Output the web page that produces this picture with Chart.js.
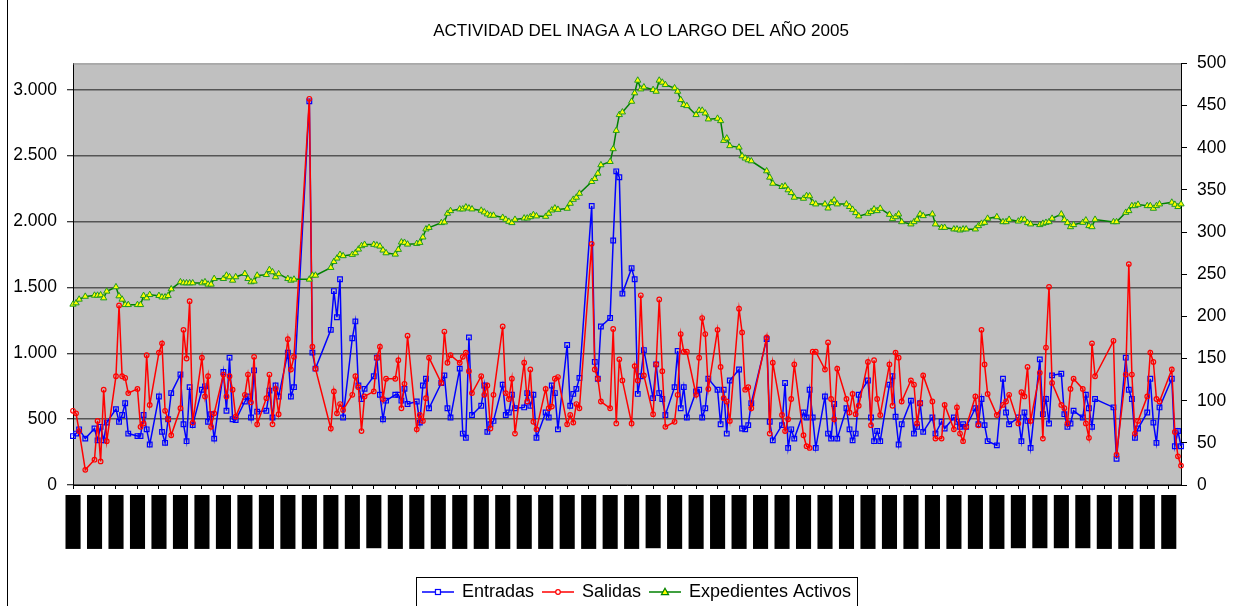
<!DOCTYPE html>
<html><head><meta charset="utf-8">
<script src="https://cdn.jsdelivr.net/npm/chart.js@4.4.0/dist/chart.umd.min.js"></script>
<style>html,body{margin:0;padding:0;background:#fff;}canvas{display:block;}</style>
</head><body>
<canvas id="c" width="1248" height="606"></canvas>
<script>
const chartTitle = 'ACTIVIDAD DEL INAGA A LO LARGO DEL AÑO 2005';
const seriesNames = ['Entradas', 'Salidas', 'Expedientes Activos'];
const tickDays = [0,7,14,21,28,35,42,49,56,63,70,77,84,91,98,105,112,119,126,133,140,147,154,161,168,175,182,189,196,203,210,217,224,231,238,245,252,259,266,273,280,287,294,301,308,315,322,329,336,343,350,357];
const tickLabels = ['03/01/2005','10/01/2005','17/01/2005','24/01/2005','31/01/2005','07/02/2005','14/02/2005','21/02/2005','28/02/2005','07/03/2005','14/03/2005','21/03/2005','28/03/2005','04/04/2005','11/04/2005','18/04/2005','25/04/2005','02/05/2005','09/05/2005','16/05/2005','23/05/2005','30/05/2005','06/06/2005','13/06/2005','20/06/2005','27/06/2005','04/07/2005','11/07/2005','18/07/2005','25/07/2005','01/08/2005','08/08/2005','15/08/2005','22/08/2005','29/08/2005','05/09/2005','12/09/2005','19/09/2005','26/09/2005','03/10/2005','10/10/2005','17/10/2005','24/10/2005','31/10/2005','07/11/2005','14/11/2005','21/11/2005','28/11/2005','05/12/2005','12/12/2005','19/12/2005','26/12/2005'];
const leftTicks = [0,500,1000,1500,2000,2500,3000];
const rightTicks = [0,50,100,150,200,250,300,350,400,450,500];

// day offset from 03/01/2005 (one line per week)
const days = [
0,1,2,4,
7,8,9,10,11,
14,15,16,17,18,
21,22,23,24,25,
28,29,30,31,32,
35,36,37,38,39,
42,43,44,45,46,
49,50,51,52,53,
56,57,58,59,60,
63,64,65,66,67,
70,71,72,
77,78,79,
84,85,86,87,88,
91,92,93,94,95,
98,99,100,101,102,
105,106,107,108,109,
112,113,114,115,116,
120,121,122,123,
126,127,128,129,130,
133,134,135,136,137,
140,141,142,143,144,
147,148,149,150,151,
154,155,156,157,158,
161,162,163,164,165,
169,170,171,172,
175,176,177,178,179,
182,183,184,185,186,
189,190,191,192,193,
196,197,198,199,200,
203,204,205,206,207,
210,211,212,213,214,
217,218,219,220,221,
226,227,228,
231,232,233,234,235,
238,239,240,241,242,
245,246,247,248,249,
252,253,254,255,256,
259,260,261,262,263,
266,267,268,269,270,
273,274,275,276,277,
280,281,283,284,
287,288,289,290,291,
294,295,296,297,298,
301,303,304,305,
308,309,310,311,312,
315,316,317,318,319,
322,323,324,325,326,
329,330,331,332,333,
339,340,
343,344,345,346,347,
350,351,352,353,354,
358,359,360,361
];
const entradas = [
58,61,66,55,
67,53,69,53,74,
90,75,83,97,61,
58,58,83,66,48,
105,63,50,78,109,
131,72,52,116,71,
113,117,75,84,55,
134,88,151,78,77,
99,105,80,136,87,
88,112,80,118,105,
157,105,116,
455,157,138,
184,230,199,244,80,
174,194,118,102,114,
129,151,107,78,100,
107,107,100,114,96,
99,74,118,126,91,
121,130,91,80,
138,61,56,175,83,
94,118,63,72,76,
119,83,86,107,91,
92,109,94,107,56,
86,80,118,109,66,
166,94,108,114,127,
331,146,126,188,
198,290,372,365,227,
257,244,108,129,160,
103,143,109,102,83,
116,159,91,116,80,
111,113,80,91,126,
113,72,113,61,124,
137,67,66,71,97,
173,75,53,
71,121,44,66,55,
86,80,113,80,44,
105,61,55,96,55,
91,66,53,61,107,
124,80,52,64,52,
119,129,81,48,72,
100,61,69,97,63,
80,61,75,67,
80,75,69,72,69,
91,72,102,71,52,
47,126,86,72,
80,52,86,76,44,
149,84,102,73,130,
132,84,69,73,88,
80,107,91,69,102,
92,31,
151,113,102,56,67,
86,126,74,50,92,
126,46,64,46
];
const salidas = [
88,85,64,18,
30,76,28,113,52,
129,213,129,127,109,
114,69,73,154,95,
157,168,88,78,59,
91,184,150,218,74,
151,105,129,69,85,
131,105,129,113,81,
107,131,98,152,72,
103,131,72,114,84,
173,137,152,
458,164,138,
67,111,85,96,89,
107,129,116,64,105,
111,151,164,102,126,
126,148,91,120,177,
66,83,76,103,151,
121,182,145,154,
145,152,157,135,109,
129,107,118,67,107,
188,109,102,126,61,
145,99,137,75,66,
114,91,93,126,128,
72,83,74,96,91,
286,137,126,99,
91,185,73,149,124,
73,141,124,225,130,
84,143,220,135,69,
75,107,179,158,158,
107,151,198,179,114,
184,140,103,99,76,
209,181,113,116,91,
175,61,145,
83,64,78,102,143,
59,46,44,158,158,
137,169,102,78,138,
102,86,108,84,94,
146,71,148,102,83,
143,94,157,151,99,
124,119,73,97,130,
99,55,55,95,
66,92,61,52,69,
105,71,184,143,108,
83,95,99,107,
73,110,105,140,76,
133,55,163,235,121,
95,91,73,114,126,
114,73,56,168,129,
171,36,
131,262,131,61,76,
105,157,146,102,99,
137,63,34,23
];
const expedientes = [
1371,1381,1409,1431,
1439,1439,1442,1419,1470,
1503,1434,1409,1368,1368,
1368,1368,1437,1419,1444,
1437,1426,1426,1437,1487,
1541,1533,1533,1533,1533,
1533,1541,1523,1523,1566,
1566,1591,1579,1553,1579,
1604,1566,1541,1546,1591,
1596,1634,1617,1579,1602,
1566,1553,1561,
1561,1591,1591,
1650,1695,1721,1749,1739,
1749,1761,1789,1815,1825,
1825,1820,1812,1782,1761,
1751,1787,1843,1840,1827,
1832,1840,1881,1942,1954,
1990,1995,2061,2081,
2094,2094,2109,2101,2094,
2084,2071,2056,2046,2046,
2030,2015,2000,1990,2015,
2025,2025,2035,2051,2041,
2038,2061,2086,2101,2091,
2099,2137,2167,2183,2213,
2302,2325,2365,2429,
2454,2551,2690,2810,2830,
2911,2975,3071,3005,3020,
3000,2987,3071,3056,3038,
3013,2987,2924,2886,2878,
2810,2843,2843,2822,2777,
2782,2764,2614,2632,2574,
2563,2497,2480,2467,2459,
2383,2335,2289,
2264,2269,2239,2218,2183,
2175,2195,2193,2142,2132,
2132,2101,2142,2162,2132,
2132,2112,2091,2066,2041,
2061,2074,2094,2081,2099,
2053,2020,2035,2056,1997,
1980,1997,2015,2056,2043,
2056,1980,1954,1954,
1942,1942,1934,1942,1942,
1942,1967,1985,1992,2023,
2035,1997,1997,2015,
2002,2015,2015,1990,1980,
1975,1985,1992,1997,2023,
2056,2013,1990,1959,1975,
1992,2010,1967,1959,2015,
1997,1997,
2068,2081,2119,2119,2129,
2119,2119,2099,2119,2132,
2145,2129,2112,2132
];

const FONT = "'Liberation Sans', Arial, sans-serif";
Chart.defaults.font.family = FONT;
Chart.defaults.color = '#000';

function thousands(v) { return String(v).replace(/\B(?=(\d{3})+(?!\d))/g, '.'); }

function makeIcon(color, kind) {
  const c = document.createElement('canvas');
  c.width = 32; c.height = 12;
  const g = c.getContext('2d');
  g.strokeStyle = color; g.lineWidth = 1.5;
  g.beginPath(); g.moveTo(0, 6); g.lineTo(32, 6); g.stroke();
  g.lineWidth = 1.2;
  if (kind === 'rect') { g.fillStyle = '#fff'; g.fillRect(13.5, 3.5, 5, 5); g.strokeRect(13.5, 3.5, 5, 5); }
  else if (kind === 'circle') { g.fillStyle = '#fff'; g.beginPath(); g.arc(16, 6, 2.3, 0, Math.PI * 2); g.fill(); g.stroke(); }
  else { g.fillStyle = '#ffff00'; g.beginPath(); g.moveTo(16, 2.2); g.lineTo(19.6, 8.6); g.lineTo(12.4, 8.6); g.closePath(); g.fill(); g.stroke(); }
  return c;
}
const legendIcons = [makeIcon('#0000ff', 'rect'), makeIcon('#ff0000', 'circle'), makeIcon('#008000', 'tri')];

const pts = vals => days.map((d, i) => ({x: d, y: vals[i]}));

const bgPlugin = {
  id: 'bg',
  afterLayout(chart) {
    const lg = chart.legend;
    if (lg) { lg.left -= 4; lg.right -= 4; }
  },
  beforeDraw(chart) {
    const {ctx, chartArea: a} = chart;
    ctx.save();
    ctx.fillStyle = '#ffffff';
    ctx.fillRect(0, 0, chart.width, chart.height);
    ctx.fillStyle = '#c0c0c0';
    ctx.fillRect(a.left, a.top, a.right - a.left, a.bottom - a.top);
    ctx.fillStyle = '#000';
    ctx.fillRect(7, 0, 1, chart.height);
    ctx.restore();
  },
  afterDraw(chart) {
    const {ctx, chartArea: a} = chart;
    ctx.save();
    ctx.strokeStyle = '#8c8c8c';
    ctx.lineWidth = 1;
    ctx.beginPath(); ctx.moveTo(a.left, a.top + 0.5); ctx.lineTo(a.right, a.top + 0.5); ctx.stroke();
    const hb = chart.legend.legendHitBoxes;
    if (hb && hb.length) {
      const l = Math.min(...hb.map(h => h.left)) - 7;
      const r = Math.max(...hb.map(h => h.left + h.width)) + 6;
      const t = hb[0].top - 6;
      ctx.strokeStyle = '#000';
      ctx.strokeRect(Math.round(l) + 0.5, Math.round(t) + 0.5, Math.round(r - l), 60);
    }
    ctx.restore();
  }
};

new Chart(document.getElementById('c'), {
  type: 'line',
  data: {
    datasets: [
      { label: seriesNames[0], data: pts(entradas), yAxisID: 'y1', order: 3,
        borderColor: '#0000ff', borderWidth: 1.5, pointStyle: 'rect', pointRadius: 3.3,
        pointBorderColor: '#0000ff', pointBackgroundColor: 'rgba(0,0,0,0)', pointBorderWidth: 1.2, clip: false },
      { label: seriesNames[1], data: pts(salidas), yAxisID: 'y1', order: 2,
        borderColor: '#ff0000', borderWidth: 1.5, pointStyle: 'circle', pointRadius: 2.3,
        pointBorderColor: '#ff0000', pointBackgroundColor: 'rgba(0,0,0,0)', pointBorderWidth: 1.2, clip: false },
      { label: seriesNames[2], data: pts(expedientes), yAxisID: 'y', order: 1,
        borderColor: '#008000', borderWidth: 1.5, pointStyle: 'triangle', pointRadius: 3.6,
        pointBorderColor: '#1f9a1f', pointBackgroundColor: '#ffff00', pointBorderWidth: 1, clip: false }
    ]
  },
  options: {
    responsive: false,
    animation: false,
    devicePixelRatio: 1,
    elements: { line: { tension: 0 } },
    layout: { padding: { left: 0, right: -34, top: 0, bottom: -5 } },
    plugins: {
      title: { display: true, text: chartTitle, color: '#000',
        font: { family: FONT, size: 17, weight: 'normal' }, padding: { top: 21, bottom: 22 } },
      legend: {
        position: 'bottom',
        labels: {
          usePointStyle: true, pointStyleWidth: 30, color: '#000', padding: 9,
          font: { family: FONT, size: 18 },
          generateLabels(chart) {
            const items = Chart.defaults.plugins.legend.labels.generateLabels(chart);
            items.forEach(it => { it.pointStyle = legendIcons[it.datasetIndex]; it.rotation = 0; });
            return items.sort((a, b) => a.datasetIndex - b.datasetIndex);
          }
        }
      },
      tooltip: { enabled: false }
    },
    scales: {
      x: {
        type: 'linear', position: 'bottom', min: 0, max: 361,
        afterBuildTicks(s) { s.ticks = tickDays.map(v => ({ value: v })); },
        afterFit(s) { s.height = 89; },
        ticks: {
          autoSkip: false, maxRotation: 90, minRotation: 90, padding: 6,
          callback: (v, i) => tickLabels[i],
          font: { family: FONT, size: 9.4, lineHeight: 0.01 }, color: '#000',
          showLabelBackdrop: true, backdropColor: '#000',
          backdropPadding: { top: 7.5, bottom: 7.5, left: 7, right: 0 }
        },
        grid: { display: true, drawOnChartArea: false, drawTicks: true, tickLength: 4, tickColor: '#000', tickWidth: 1 },
        border: { display: true, color: '#000', width: 1 }
      },
      y: {
        position: 'left', min: 0, max: 3200,
        afterBuildTicks(s) { s.ticks = leftTicks.map(v => ({ value: v })); },
        afterFit(s) { s.width = 73; },
        ticks: { callback: v => thousands(v), font: { family: FONT, size: 17.5 }, color: '#000', padding: 10 },
        grid: { color: '#555555', lineWidth: 1.5, drawTicks: true, tickLength: 6, tickColor: '#000', tickWidth: 1 },
        border: { display: true, color: '#000', width: 1 }
      },
      y1: {
        position: 'right', min: 0, max: 500,
        afterBuildTicks(s) { s.ticks = rightTicks.map(v => ({ value: v })); },
        afterFit(s) { s.width = 101; },
        ticks: { font: { family: FONT, size: 17.5 }, color: '#000', padding: 10 },
        grid: { drawOnChartArea: false, drawTicks: true, tickLength: 6, tickColor: '#000', tickWidth: 1 },
        border: { display: true, color: '#000', width: 1 }
      }
    }
  },
  plugins: [bgPlugin]
});
</script>
</body></html>
